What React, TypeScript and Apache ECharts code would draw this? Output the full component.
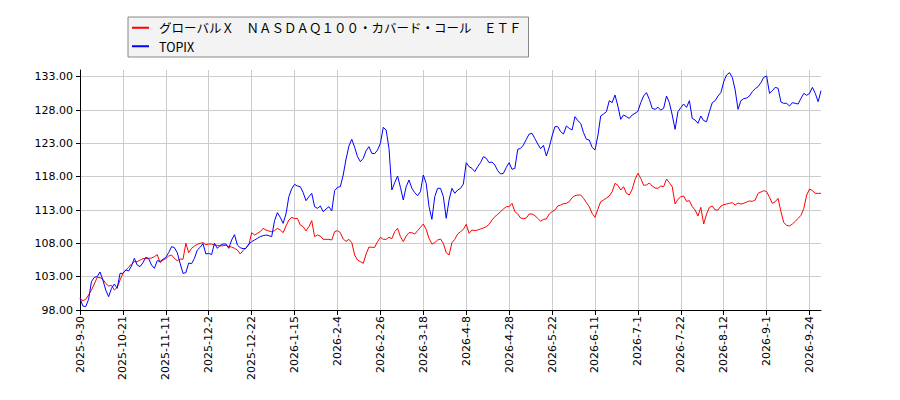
import * as echarts from "echarts";
import { useEffect, useRef } from "react";

// dates shown under the x axis (one every 15 trading days)
const tickDates = [
	"2025-9-30", "2025-10-21", "2025-11-11", "2025-12-2", "2025-12-22", "2026-1-15",
	"2026-2-4", "2026-2-26", "2026-3-18", "2026-4-8", "2026-4-28", "2026-5-22",
	"2026-6-11", "2026-7-1", "2026-7-22", "2026-8-12", "2026-9-1", "2026-9-24"
];
const STEP = 15;
const TAIL = 4;

const yTicks = [98, 103, 108, 113, 118, 123, 128, 133];

const etfName = "グローバルＸ　ＮＡＳＤＡＱ１００・カバード・コール　ＥＴＦ";
const topixName = "TOPIX";

const etfValues = [
	99.75, 99.4, 99.6, 100.25, 101.0, 101.9, 102.9, 102.85, 102.6, 102.0,
	101.6, 101.7, 101.0, 101.4, 102.5, 103.5, 104.0, 104.4, 104.9, 105.25,
	105.25, 105.5, 105.7, 105.75, 105.75, 105.8, 106.0, 106.3, 105.1, 105.5,
	105.7, 106.1, 106.25, 105.75, 105.4, 105.65, 105.6, 108.0, 106.6, 107.25,
	107.6, 107.85, 108.0, 108.1, 107.8, 107.9, 107.9, 107.75, 107.7, 107.6,
	107.65, 107.7, 107.5, 107.45, 107.25, 107.0, 106.4, 106.9, 107.35, 107.75,
	109.6, 109.25, 109.5, 109.75, 110.25, 110.0, 109.85, 109.75, 109.9, 110.25,
	110.0, 109.6, 110.6, 111.5, 111.9, 111.7, 111.75, 110.75, 110.5, 109.85,
	110.5, 111.4, 109.0, 109.25, 109.1, 108.6, 108.6, 108.6, 108.5, 109.75,
	109.9, 109.6, 108.65, 108.3, 108.6, 108.1, 106.25, 105.5, 105.25, 105.0,
	106.4, 107.45, 107.4, 107.4, 108.25, 108.9, 108.6, 108.6, 108.9, 108.7,
	109.75, 110.25, 109.0, 108.25, 109.1, 109.6, 109.6, 109.4, 109.9, 110.4,
	110.9, 110.1, 108.75, 107.9, 108.1, 108.5, 108.65, 108.0, 106.6, 106.25,
	108.1, 108.6, 109.4, 109.75, 110.1, 110.85, 109.5, 110.0, 109.9, 110.0,
	110.15, 110.3, 110.5, 110.85, 111.5, 112.0, 112.35, 112.75, 113.15, 113.5,
	113.5, 114.0, 112.75, 112.4, 111.8, 111.7, 111.8, 112.4, 112.4, 112.15,
	111.75, 111.3, 111.6, 111.65, 112.4, 112.75, 113.0, 113.6, 113.75, 113.95,
	114.0, 114.25, 114.85, 115.15, 115.25, 115.25, 114.75, 114.1, 113.5, 112.5,
	111.9, 113.1, 114.25, 114.5, 114.8, 115.1, 115.75, 117.0, 116.7, 116.0,
	116.5, 115.5, 115.25, 116.1, 117.6, 118.5, 117.75, 116.7, 116.75, 117.05,
	116.6, 116.3, 116.25, 116.6, 116.5, 117.65, 117.1, 116.5, 113.9, 114.6,
	115.0, 115.1, 114.3, 114.4, 113.5, 113.0, 112.1, 113.4, 110.9, 112.4,
	113.4, 113.6, 113.0, 113.0, 113.6, 113.8, 113.9, 114.0, 114.1, 113.75,
	114.05, 113.9, 114.0, 114.2, 114.35, 114.3, 114.5, 115.5, 115.7, 115.9,
	115.75, 114.9, 114.0, 114.25, 114.75, 112.75, 111.1, 110.7, 110.6, 110.9,
	111.3, 111.75, 112.2, 113.25, 115.25, 116.15, 115.9, 115.5, 115.5, 115.5
];

const topixValues = [
	99.75, 98.6, 98.5, 99.6, 102.25, 102.9, 103.0, 103.7, 102.5, 101.0,
	100.0, 101.25, 101.9, 101.25, 103.5, 103.5, 104.0, 103.85, 104.6, 105.75,
	104.75, 104.5, 105.1, 105.9, 105.7, 104.75, 104.25, 105.4, 105.3, 105.6,
	105.9, 106.6, 107.5, 107.35, 106.6, 105.0, 103.5, 103.6, 105.05, 104.95,
	105.75, 107.0, 107.4, 107.95, 106.4, 106.5, 106.3, 108.0, 107.25, 107.7,
	107.9, 107.9, 107.25, 108.5, 109.3, 107.75, 107.35, 107.2, 107.25, 107.9,
	108.25, 108.5, 108.75, 109.0, 109.15, 109.25, 109.15, 109.0, 111.4, 112.6,
	111.9, 111.0, 112.4, 115.0, 116.2, 116.85, 116.6, 116.5, 115.6, 114.4,
	115.0, 115.5, 113.5, 113.25, 113.6, 112.75, 113.15, 113.5, 112.85, 115.9,
	116.4, 116.5, 118.25, 120.65, 122.6, 123.6, 122.4, 121.0, 120.25, 120.75,
	121.9, 122.5, 121.5, 121.45, 122.0, 123.0, 125.4, 125.0, 122.25, 116.0,
	117.1, 118.1, 116.4, 114.5, 116.5, 117.5, 116.25, 115.6, 115.15, 115.75,
	118.25, 117.0, 113.5, 111.6, 115.0, 116.25, 116.25, 115.0, 111.75, 114.5,
	116.25, 115.5, 116.0, 116.25, 116.9, 120.1, 119.5, 119.25, 118.75, 119.5,
	120.1, 121.0, 120.75, 120.1, 120.2, 119.75, 118.9, 118.4, 118.5, 119.4,
	120.1, 119.1, 119.25, 122.1, 122.25, 122.75, 123.6, 124.4, 124.5, 123.7,
	122.9, 122.2, 122.7, 121.1, 122.4, 124.1, 125.5, 125.5, 124.75, 124.4,
	125.6, 125.25, 125.0, 127.0, 126.4, 126.0, 124.6, 123.6, 123.5, 122.4,
	122.0, 124.1, 127.1, 127.4, 127.75, 129.4, 129.1, 130.25, 128.6, 126.6,
	127.25, 127.0, 126.75, 127.25, 127.5, 127.8, 129.1, 130.1, 130.6, 129.6,
	128.25, 128.1, 128.4, 128.0, 128.25, 130.1, 129.1, 127.25, 125.1, 127.75,
	128.35, 128.9, 128.4, 129.4, 126.75, 126.5, 126.0, 127.1, 126.4, 126.25,
	127.75, 129.1, 129.4, 130.1, 130.6, 132.25, 133.25, 133.6, 132.9, 131.0,
	128.1, 129.4, 129.7, 129.8, 130.1, 130.75, 131.2, 131.5, 132.1, 132.9,
	133.1, 130.5, 130.9, 131.4, 131.25, 129.2, 129.0, 129.0, 128.6, 129.1,
	129.0, 128.9, 129.75, 130.5, 130.2, 130.5, 131.4, 130.5, 129.25, 130.9
];

const parseDate = (s: string) => {
	const [y, m, d] = s.split("-").map(Number);
	return new Date(y, m - 1, d);
};
const fmtDate = (d: Date) => `${d.getFullYear()}-${d.getMonth() + 1}-${d.getDate()}`;

// fill the unlabelled trading days between the labelled ones
const buildDates = (): string[] => {
	const out: string[] = [];
	tickDates.forEach((t, k) => {
		out.push(t);
		const end = k + 1 < tickDates.length ? parseDate(tickDates[k + 1]) : null;
		const need = end ? STEP - 1 : TAIL;
		const weekdays: Date[] = [];
		const weekends: Date[] = [];
		const d = parseDate(t);
		d.setDate(d.getDate() + 1);
		while (end ? d < end : weekdays.length < need) {
			(d.getDay() % 6 === 0 ? weekends : weekdays).push(new Date(d));
			d.setDate(d.getDate() + 1);
		}
		weekdays
			.concat(weekends)
			.slice(0, need)
			.sort((a, b) => a.getTime() - b.getTime())
			.forEach(p => out.push(fmtDate(p)));
	});
	return out;
};

const dates = buildDates();

const axisFont = { fontFamily: "DejaVu Sans", fontSize: 11, color: "#000" };

const option: echarts.EChartsOption = {
	animation: false,
	backgroundColor: "#fff",
	grid: { left: 80, right: 79, top: 70, bottom: 90 },
	legend: {
		orient: "vertical",
		left: 128,
		top: 17,
		padding: [1.5, 7, 1.5, 4],
		itemGap: 0,
		itemWidth: 17,
		itemHeight: 2,
		icon: "rect",
		backgroundColor: "#f3f3f3",
		borderColor: "#888",
		borderWidth: 1,
		borderRadius: 0,
		textStyle: {
			fontFamily: "Noto Sans CJK JP",
			fontSize: 12.5,
			lineHeight: 18.5,
			color: "#000",
			padding: [0, 0, 0, 5]
		},
		data: [etfName, topixName]
	},
	xAxis: {
		type: "category",
		boundaryGap: false,
		data: dates,
		axisLine: { lineStyle: { color: "#000", width: 1 } },
		axisTick: { interval: STEP - 1, length: 5, lineStyle: { color: "#000" } },
		axisLabel: { ...axisFont, interval: STEP - 1, rotate: 90, margin: 6 },
		splitLine: { show: true, interval: STEP - 1, lineStyle: { color: "#cccccc", width: 1 } }
	},
	yAxis: {
		type: "value",
		min: 98,
		max: 134,
		interval: 5,
		axisLine: { show: true, lineStyle: { color: "#000", width: 1 } },
		axisTick: { show: true, length: 4, lineStyle: { color: "#000" }, customValues: yTicks },
		axisLabel: {
			...axisFont,
			margin: 7,
			customValues: yTicks,
			formatter: (v: number) => v.toFixed(2)
		},
		splitLine: { show: true, lineStyle: { color: "#cccccc", width: 1 } }
	},
	series: [
		{
			name: etfName,
			type: "line",
			data: etfValues,
			symbol: "none",
			lineStyle: { color: "#ff0000", width: 1 },
			itemStyle: { color: "#ff0000" }
		},
		{
			name: topixName,
			type: "line",
			data: topixValues,
			symbol: "none",
			lineStyle: { color: "#0000ff", width: 1 },
			itemStyle: { color: "#0000ff" }
		}
	]
};

const App = () => {
	const chartRef = useRef<HTMLDivElement>(null);

	useEffect(() => {
		document.body.style.margin = "0";
		const chart = echarts.init(chartRef.current!, undefined, { renderer: "svg" });
		chart.setOption(option);

		return () => {
			chart.dispose();
		};
	}, []);

	return <div ref={chartRef} style={{ width: "900px", height: "400px" }} />;
};

export default App;
